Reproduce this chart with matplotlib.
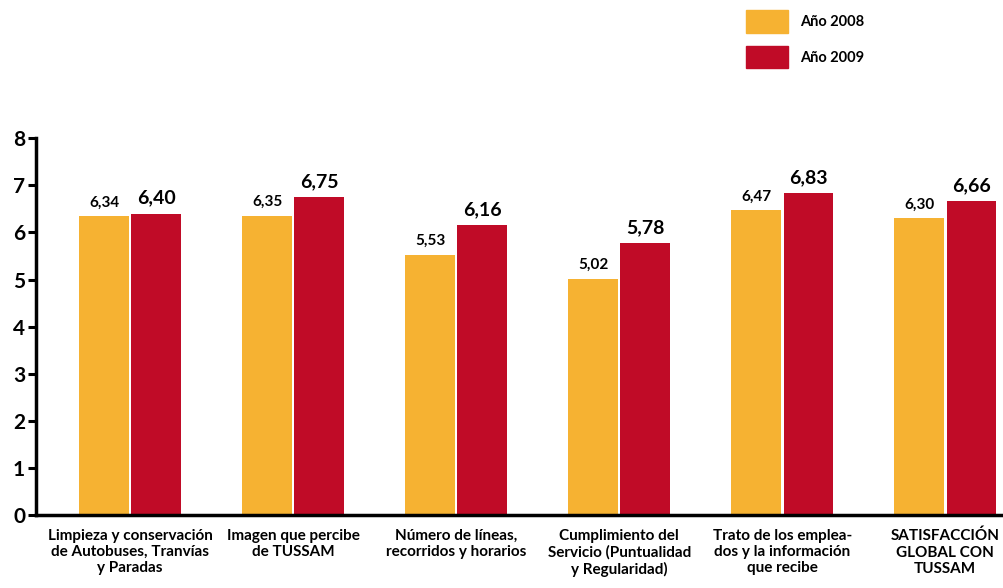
import numpy as np
import matplotlib.pyplot as plt
from matplotlib.patches import Patch

categories = [
    "Limpieza y conservación\nde Autobuses, Tranvías\ny Paradas",
    "Imagen que percibe\nde TUSSAM",
    "Número de líneas,\nrecorridos y horarios",
    "Cumplimiento del\nServicio (Puntualidad\ny Regularidad)",
    "Trato de los emplea-\ndos y la información\nque recibe",
    "SATISFACCIÓN\nGLOBAL CON\nTUSSAM",
]
vals_2008 = [6.34, 6.35, 5.53, 5.02, 6.47, 6.30]
vals_2009 = [6.40, 6.75, 6.16, 5.78, 6.83, 6.66]
labels_2008 = ["6,34", "6,35", "5,53", "5,02", "6,47", "6,30"]
labels_2009 = ["6,40", "6,75", "6,16", "5,78", "6,83", "6,66"]
series_names = ["Año 2008", "Año 2009"]

c08 = "#F6B232"
c09 = "#C00B27"

plt.rcParams['font.family'] = ['Lato', 'DejaVu Sans']

fig = plt.figure(figsize=(10.04, 5.88), dpi=100)
ax = fig.add_axes([0.036, 0.124, 0.964, 0.641])

x = np.arange(len(categories))
w = 0.305
off = 0.16
ax.bar(x - off, vals_2008, w, color=c08)
ax.bar(x + off, vals_2009, w, color=c09)

for xi, v, t in zip(x, vals_2008, labels_2008):
    ax.annotate(t, (xi - off, v), xytext=(0, 5), textcoords='offset points',
                ha='center', va='bottom', fontsize=11, fontweight='bold')
for xi, v, t in zip(x, vals_2009, labels_2009):
    ax.annotate(t, (xi + off, v), xytext=(0, 5), textcoords='offset points',
                ha='center', va='bottom', fontsize=14, fontweight='bold')

ax.set_ylim(0, 8)
ax.set_xlim(-0.577, 5.36)
ax.set_yticks(range(0, 9))
ax.set_xticks(x)
ax.set_xticklabels(categories, fontsize=11, fontweight='bold', linespacing=1.2)
ax.tick_params(axis='x', length=0, pad=10)
ax.tick_params(axis='y', length=6, width=2.2, labelsize=15, pad=2)
for lab in ax.get_yticklabels():
    lab.set_fontweight('bold')

for s in ['top', 'right']:
    ax.spines[s].set_visible(False)
for s in ['left', 'bottom']:
    ax.spines[s].set_linewidth(2.5)

handles = [Patch(color=c08), Patch(color=c09)]
fig.legend(handles, series_names, loc='upper left', bbox_to_anchor=(0.73, 1.005),
           frameon=False, handlelength=2.9, handleheight=2.0, labelspacing=0.9,
           handletextpad=0.8, prop={'weight': 'bold', 'size': 10.5})

fig.savefig("out.png", dpi=100)
